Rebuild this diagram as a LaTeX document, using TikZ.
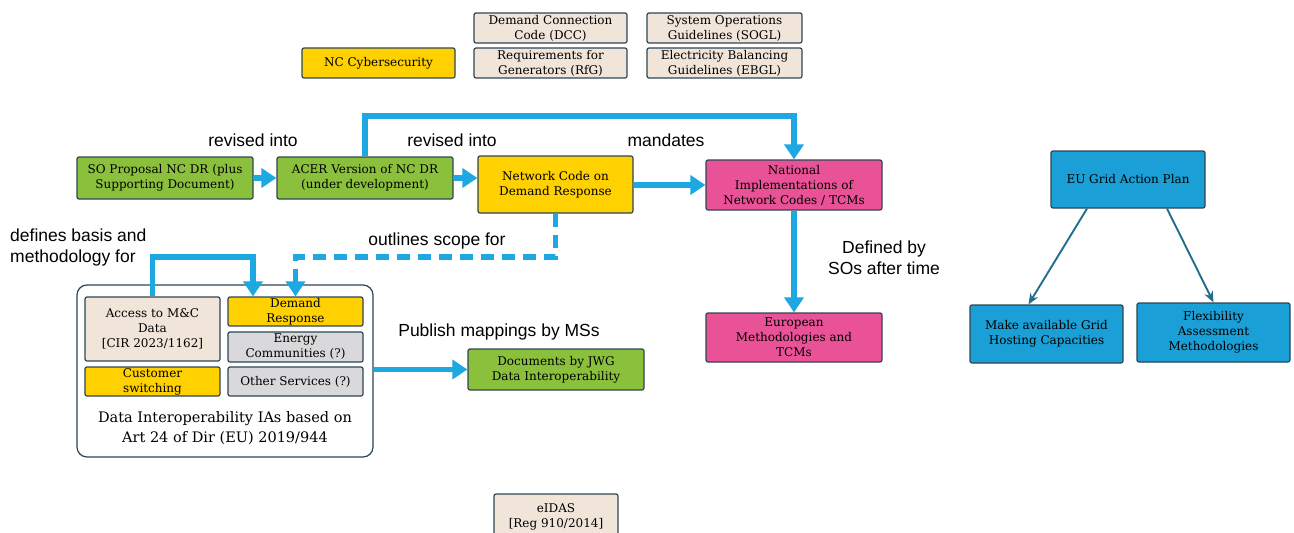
\documentclass[tikz,border=0pt]{standalone}
\usepackage{fontspec}
\setmainfont{DejaVu Serif}
\newfontfamily\lblfont{Liberation Sans}
\usetikzlibrary{arrows.meta,calc}
\definecolor{bordc}{RGB}{45,70,85}
\definecolor{beige}{RGB}{241,229,218}
\definecolor{ylw}{RGB}{255,209,0}
\definecolor{grn}{RGB}{139,192,60}
\definecolor{pnk}{RGB}{234,82,151}
\definecolor{bluebox}{RGB}{26,159,214}
\definecolor{gry}{RGB}{217,217,219}
\definecolor{arrblue}{RGB}{29,168,225}
\definecolor{thinarr}{RGB}{34,110,140}
\tikzset{
  box/.style={draw=bordc, line width=1.2pt, rounded corners=2pt, align=center, inner sep=1pt,
    font=\fontsize{12}{15}\selectfont, text=black},
  lbl/.style={font=\lblfont\fontsize{17.5}{21}\selectfont, align=center, inner sep=0pt},
  bigarrow/.style={draw=arrblue, line width=5.5pt, -{Triangle[length=15pt,width=19pt]}},
  dasharrow/.style={bigarrow, dash pattern=on 13pt off 8pt},
  thinarrow/.style={draw=thinarr, line width=1.9pt, -{Stealth[length=11pt,width=9pt]}}
}
\begin{document}
\begin{tikzpicture}[x=1pt,y=-1pt]
\useasboundingbox (0,0) rectangle (1294,533);
% top boxes
\node[box, fill=ylw, minimum width=153, minimum height=30] (cyber) at (378.5,63) {NC Cybersecurity};
\node[box, fill=beige, minimum width=153, minimum height=30] (dcc) at (550.5,28) {Demand Connection\\Code (DCC)};
\node[box, fill=beige, minimum width=153, minimum height=30] (rfg) at (550.5,63) {Requirements for\\Generators (RfG)};
\node[box, fill=beige, minimum width=155, minimum height=30] (sogl) at (724.5,28) {System Operations\\Guidelines (SOGL)};
\node[box, fill=beige, minimum width=155, minimum height=30] (ebgl) at (724.5,63) {Electricity Balancing\\Guidelines (EBGL)};
% main flow
\node[box, fill=grn, minimum width=176, minimum height=42] (so) at (165,178) {SO Proposal NC DR (plus\\Supporting Document)};
\node[box, fill=grn, minimum width=176, minimum height=42] (acer) at (365,178) {ACER Version of NC DR\\(under development)};
\node[box, fill=ylw, minimum width=155, minimum height=57] (ncdr) at (555.5,184.5) {Network Code on\\Demand Response};
\node[box, fill=pnk, minimum width=176, minimum height=50] (nat) at (794,185) {National\\Implementations of\\Network Codes / TCMs};
\node[box, fill=pnk, minimum width=176, minimum height=49] (eur) at (794,337.5) {European\\Methodologies and\\TCMs};
% data interoperability
\node[box, fill=white, rounded corners=10pt, minimum width=296, minimum height=172] (big) at (225,371) {};
\node[box, fill=beige, minimum width=135, minimum height=64] (access) at (152.5,329) {Access to M\&C\\Data\\{}[CIR 2023/1162]};
\node[box, fill=ylw, minimum width=135, minimum height=29] (dr) at (295.5,311.5) {Demand\\Response};
\node[box, fill=gry, minimum width=135, minimum height=30] (ec) at (295.5,347) {Energy\\Communities (?)};
\node[box, fill=ylw, minimum width=135, minimum height=29] (cs) at (152.5,381.5) {Customer\\switching};
\node[box, fill=gry, minimum width=135, minimum height=29] (os) at (295.5,381.5) {Other Services (?)};
\node[align=center, inner sep=0pt, font=\fontsize{14.5}{19.5}\selectfont] (bigtxt) at (225,428) {Data Interoperability IAs based on\\Art 24 of Dir (EU) 2019/944};
\node[box, fill=grn, minimum width=176, minimum height=41] (docs) at (556,369.5) {Documents by JWG\\Data Interoperability};
% right side
\node[box, fill=bluebox, minimum width=154, minimum height=57] (grid) at (1128,179.5) {EU Grid Action Plan};
\node[box, fill=bluebox, minimum width=153, minimum height=58] (make) at (1046.5,334) {Make available Grid\\Hosting Capacities};
\node[box, fill=bluebox, minimum width=153, minimum height=59] (flex) at (1213.5,332.5) {Flexibility\\Assessment\\Methodologies};
% eIDAS
\node[box, fill=beige, minimum width=124, minimum height=46] (eidas) at (556,517) {eIDAS\\{}[Reg 910/2014]};
% labels
\node[lbl] (l1) at (253,140) {revised into};
\node[lbl] (l2) at (452,140) {revised into};
\node[lbl] (l3) at (666,140) {mandates};
\node[lbl] (l4) at (884,258) {Defined by\\SOs after time};
\node[lbl, anchor=west, align=left] (l5) at (10,247.5) {defines basis and\\methodology for};
\node[lbl] (l6) at (437,241) {outlines scope for};
\node[lbl] (l7) at (499,332) {Publish mappings by MSs};
% coordinates
\coordinate (topy) at (0,116);
\coordinate (midy) at (0,257);
\coordinate (drleft) at (253,0);
% connectors
\draw[bigarrow] (so) -- (acer);
\draw[bigarrow] (acer.east) -- (acer.east -| ncdr.west);
\draw[bigarrow] (ncdr.east |- nat.west) -- (nat.west);
\draw[bigarrow] (acer.north) -- (acer.north |- topy) -- (nat.north |- topy) -- (nat.north);
\draw[bigarrow] (nat.south) -- (eur.north);
\draw[bigarrow] (access.north) -- (access.north |- midy) -- (drleft |- midy) -- (drleft |- dr.north);
\draw[dasharrow] (ncdr.south) -- (ncdr.south |- midy) -- (dr.north |- midy) -- (dr.north);
\draw[bigarrow] (big.east |- docs.west) -- (docs.west);
\draw[thinarrow] ([xshift=-41pt]grid.south) -- ([xshift=-18pt]make.north);
\draw[thinarrow] ([xshift=39pt]grid.south) -- (flex.north);
\end{tikzpicture}
\end{document}
